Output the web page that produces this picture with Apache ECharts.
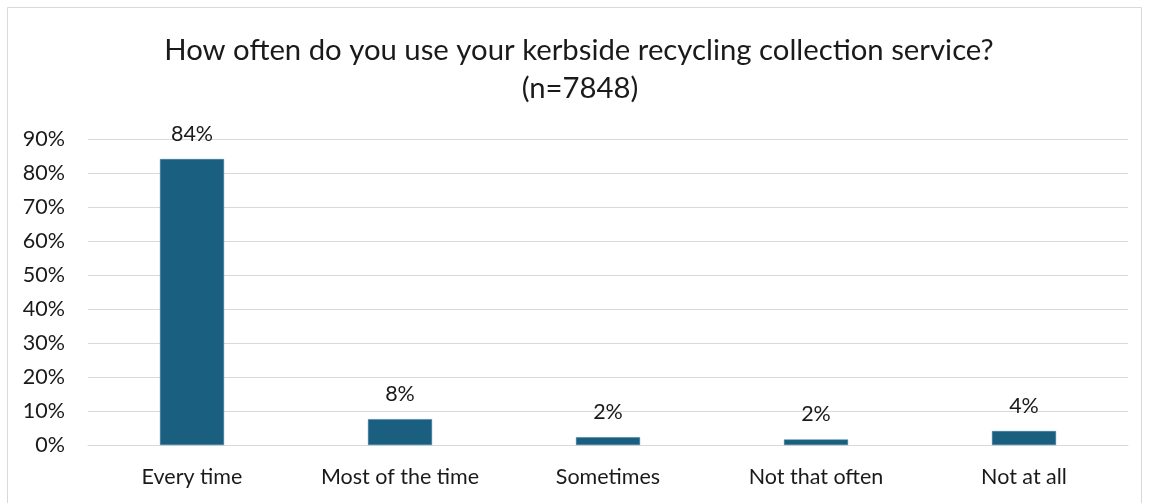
<!DOCTYPE html>
<html>
<head>
<meta charset="utf-8">
<script src="https://cdn.jsdelivr.net/npm/echarts@6/dist/echarts.min.js"></script>
<style>
  html, body { margin: 0; padding: 0; background: #fff; }
  #chart { width: 1149px; height: 503px; }
</style>
</head>
<body>
<div id="chart"></div>
<script>
// Survey responses: frequency of kerbside recycling use (share of respondents, %)
const categories = ['Every time', 'Most of the time', 'Sometimes', 'Not that often', 'Not at all'];
const shares = [84.1, 7.6, 2.3, 1.6, 4.1];
const yTicks = [0, 10, 20, 30, 40, 50, 60, 70, 80, 90];
const titleLines = ['How often do you use your kerbside recycling collection service?', '(n=7848)'];

const FONT = 'Lato';
const TEXT = '#1a1a1a';
const chart = echarts.init(document.getElementById('chart'), null, { renderer: 'canvas' });

chart.setOption({
  backgroundColor: '#ffffff',
  animation: false,
  graphic: [
    {
      type: 'rect',
      shape: { x: 7.5, y: 7.5, width: 1134, height: 510 },
      style: { fill: 'none', stroke: '#d9d9d9', lineWidth: 1 },
      silent: true
    },
    {
      type: 'text', x: 579, y: 51,
      style: { text: titleLines[0], fontFamily: FONT, fontSize: 29.3, fill: TEXT, align: 'center', verticalAlign: 'middle' }
    },
    {
      type: 'text', x: 580, y: 89,
      style: { text: titleLines[1], fontFamily: FONT, fontSize: 29.3, fill: TEXT, align: 'center', verticalAlign: 'middle' }
    }
  ],
  grid: { left: 88, right: 21, top: 139, bottom: 58, containLabel: false },
  xAxis: {
    type: 'category',
    data: categories,
    axisLine: { show: true, lineStyle: { color: '#d9d9d9', width: 1 } },
    axisTick: { show: false },
    axisLabel: { fontFamily: FONT, fontSize: 21.5, color: TEXT, margin: 21 }
  },
  yAxis: {
    type: 'value',
    min: yTicks[0],
    max: yTicks[yTicks.length - 1],
    interval: 10,
    axisLine: { show: false },
    axisTick: { show: false },
    splitLine: { lineStyle: { color: '#d9d9d9', width: 1 } },
    axisLabel: {
      fontFamily: FONT, fontSize: 21.5, color: TEXT, margin: 23,
      formatter: v => v + '%'
    }
  },
  series: [{
    type: 'bar',
    data: shares,
    barWidth: 64,
    itemStyle: { color: '#1a5f80', borderColor: '#3b7d9c', borderWidth: 0.5 },
    label: {
      show: true,
      position: 'top',
      distance: 14,
      fontFamily: FONT,
      fontSize: 21.5,
      color: TEXT,
      formatter: p => Math.round(p.value) + '%'
    }
  }]
});
</script>
</body>
</html>
